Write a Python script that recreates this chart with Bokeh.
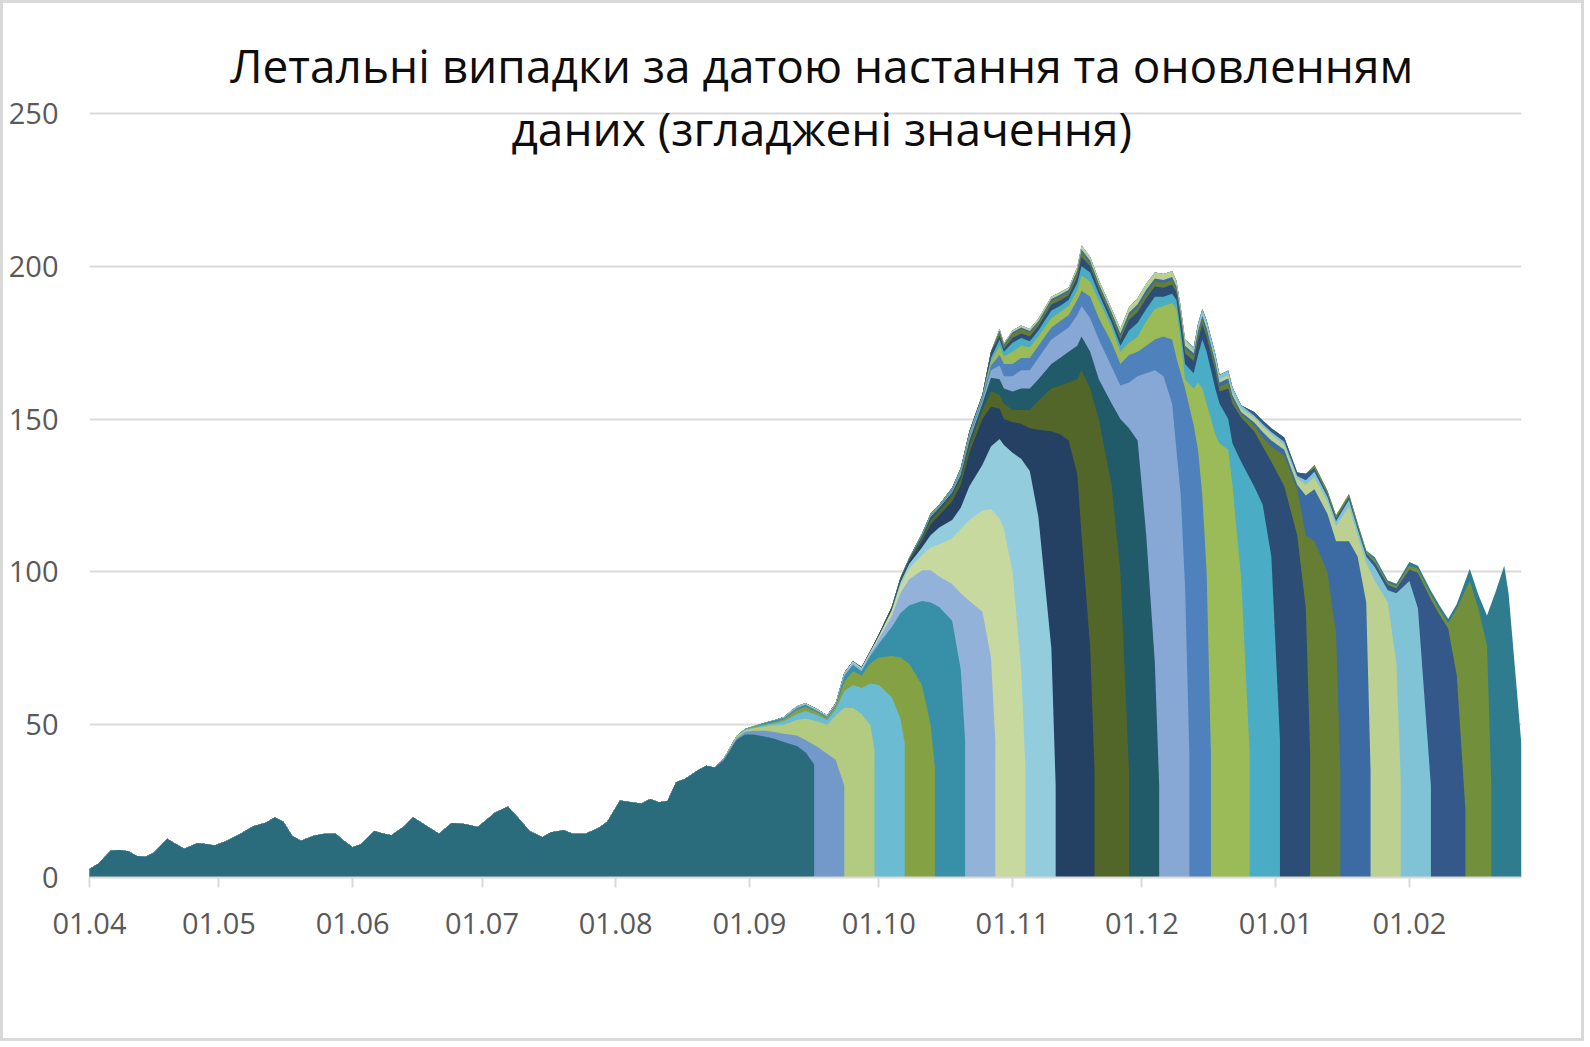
import numpy as np
import pandas as pd
from bokeh.plotting import figure
from bokeh.models import Range1d, FixedTicker, DatetimeTickFormatter, Label
from bokeh.embed import file_html
from bokeh.resources import INLINE

# ---------------- data ----------------
start = "2020-04-01"
# days since start of each reading of the final (smoothed) total
day = [0, 2, 5, 7, 9, 11, 13, 15, 18, 20,
       22, 25, 27, 29, 32, 35, 38, 41, 43, 45,
       47, 49, 52, 54, 57, 59, 61, 63, 66, 68,
       70, 73, 75, 78, 81, 84, 87, 90, 92, 94,
       97, 100, 102, 105, 107, 110, 112, 115, 118, 120,
       123, 126, 128, 130, 132, 134, 136, 138, 141, 143,
       145, 147, 150, 152, 154, 157, 159, 161, 164, 166,
       169, 171, 173, 175, 177, 179, 181, 183, 186, 188,
       190, 193, 195, 197, 200, 202, 204, 207, 209, 211,
       212, 214, 216, 218, 220, 223, 225, 227, 229, 230,
       232, 234, 237, 239, 241, 243, 245, 247, 249, 251,
       252, 253, 254, 256, 257, 258, 259, 261, 262, 264,
       265, 267, 270, 272, 274, 277, 280, 282, 284, 287,
       289, 292, 294, 296, 298, 301, 303, 306, 308, 311,
       313, 315, 317, 320, 322, 324, 326, 328, 329, 331,
       332]
total = [2.8, 4.5, 8.8, 9.0, 8.6, 7.0, 6.8, 8.2, 12.7, 11.0,
         9.4, 11.2, 11.0, 10.5, 12.1, 14.3, 16.8, 18.0, 19.7, 18.2,
         13.6, 12.0, 13.7, 14.2, 14.4, 12.0, 9.9, 11.0, 15.2, 14.4,
         13.8, 16.8, 19.7, 17.0, 14.3, 17.8, 17.5, 16.5, 18.8, 21.2,
         23.2, 18.6, 15.2, 13.2, 14.8, 15.5, 14.3, 14.3, 16.2, 18.2,
         25.2, 24.5, 24.2, 25.7, 24.6, 25.0, 31.2, 32.2, 35.0, 36.6,
         36.0, 38.8, 46.2, 48.6, 49.5, 50.8, 51.5, 52.5, 56.0, 57.0,
         54.8, 53.0, 57.0, 67.0, 70.8, 68.8, 74.0, 79.5, 88.5, 98.0,
         104.5, 112.5, 119.0, 122.0, 127.5, 134.0, 146.0, 158.0, 172.0, 179.5,
         174.8, 179.0, 180.6, 179.5, 182.8, 190.0, 191.5, 193.0, 199.7, 206.8,
         203.0, 195.5, 186.0, 179.5, 186.5, 189.5, 194.3, 198.0, 197.5, 198.4,
         195.3, 186.6, 176.0, 173.5, 181.2, 186.0, 182.3, 171.4, 164.5, 165.9,
         160.4, 154.5, 152.3, 149.5, 147.0, 144.0, 132.5, 132.1, 135.0, 126.6,
         118.5, 125.5, 116.0, 107.0, 104.8, 97.2, 96.1, 103.2, 102.0, 93.8,
         89.0, 84.6, 89.5, 101.0, 92.5, 85.7, 93.5, 102.0, 93.0, 60.0,
         43.0]

# data updates: last date of each update and its value there
layer_end = ["2020-09-16", "2020-09-23", "2020-09-30", "2020-10-07", "2020-10-14",
             "2020-10-21", "2020-10-28", "2020-11-04", "2020-11-11", "2020-11-20",
             "2020-11-28", "2020-12-05", "2020-12-12", "2020-12-17", "2020-12-26",
             "2021-01-02", "2021-01-09", "2021-01-16", "2021-01-23", "2021-01-30",
             "2021-02-06", "2021-02-14", "2021-02-20", "2021-02-27"]
layer_end_value = [37, 30, 42, 44, 36, 45, 45, 35, 30, 35,
                   35, 30, 40, 40, 40, 45, 40, 35, 35, 32,
                   30, 22, 30, 43]
# cumulative height of each update at the last readings before its end date
layer_tops = [
    [38.3, 45.0, 46.8, 46.8, 46.0, 45.3, 44.3, 43.0, 41.0],
    [45.6, 47.6, 48.0, 48.0, 47.5, 47.0, 46.5, 45.0, 42.5, 40.5, 38.5],
    [48.0, 48.8, 49.5, 49.8, 50.0, 51.5, 52.0, 51.0, 50.0, 53.0, 55.5, 55.5, 53.5, 50.0],
    [49.0, 50.0, 50.5, 51.2, 53.5, 54.5, 53.0, 51.5, 55.0, 61.0, 63.0, 62.0, 63.5, 63.0,
     59.0, 52.0],
    [50.3, 51.0, 51.8, 54.8, 55.8, 53.8, 52.2, 56.0, 64.0, 67.5, 66.0, 70.0, 72.0, 72.5,
     72.0, 70.0, 63.0, 50.0],
    [52.2, 55.5, 56.5, 54.3, 52.6, 56.5, 66.0, 69.5, 67.5, 72.5, 76.5, 82.0, 86.5, 89.0,
     90.5, 90.0, 88.5, 84.0, 68.0],
    [56.8, 54.6, 52.9, 56.8, 66.8, 70.3, 68.2, 73.3, 78.0, 85.5, 93.0, 97.5, 100.5, 100.5,
     98.5, 96.0, 93.0, 90.5, 87.0, 72.0],
    [56.9, 66.9, 70.6, 68.5, 73.7, 78.8, 87.0, 95.5, 101.0, 105.5, 108.0, 109.0, 111.0,
     114.0, 117.0, 120.0, 120.5, 117.5, 114.0, 100.0, 68.0],
    [68.6, 73.8, 79.0, 87.5, 96.5, 102.5, 108.0, 112.0, 114.5, 117.0, 121.0, 128.0, 135.0,
     141.0, 143.5, 141.5, 139.0, 137.0, 133.0, 118.0, 75.0],
    [88.0, 97.0, 103.3, 110.0, 115.5, 118.5, 123.0, 128.5, 139.0, 150.0, 154.0, 153.5,
     150.0, 149.0, 148.5, 147.0, 146.5, 146.0, 145.0, 143.0, 132.0, 112.0, 75.0],
    [97.5, 103.8, 111.0, 117.0, 120.0, 125.0, 130.5, 141.5, 153.0, 159.0, 158.0, 155.0,
     153.0, 153.0, 153.0, 156.0, 160.0, 161.0, 162.0, 163.0, 166.0, 160.0, 150.0, 128.0,
     100.0],
    [104.2, 111.7, 118.0, 121.0, 126.0, 131.8, 143.0, 155.0, 163.5, 163.0, 160.0, 159.0,
     160.0, 160.0, 163.0, 168.0, 170.0, 172.0, 174.0, 177.0, 172.0, 163.0, 155.0, 150.0,
     147.0, 143.0, 112.0, 70.0],
    [112.0, 118.4, 121.3, 126.5, 132.5, 144.0, 156.0, 166.0, 167.5, 164.0, 164.0, 166.0,
     166.0, 170.0, 176.0, 178.0, 180.0, 184.0, 187.0, 183.0, 176.0, 167.0, 161.0, 162.0,
     164.0, 165.0, 166.0, 164.0, 155.0, 140.0, 125.0, 95.0],
    [118.7, 121.6, 127.0, 133.0, 144.6, 156.8, 167.5, 171.0, 168.0, 168.0, 170.0, 170.0,
     174.0, 180.0, 182.0, 184.0, 189.0, 192.0, 190.0, 183.0, 175.0, 168.0, 171.0, 172.0,
     174.0, 176.0, 177.0, 176.0, 170.0, 165.0, 160.0, 148.0, 140.0, 125.0, 100.0],
    [127.2, 133.5, 145.2, 157.3, 169.0, 174.0, 170.5, 172.0, 174.0, 173.5, 177.0, 183.0,
     185.0, 187.0, 192.0, 197.0, 195.0, 189.0, 180.0, 172.0, 175.0, 177.0, 182.0, 186.0,
     187.0, 188.0, 186.0, 176.0, 163.0, 160.0, 162.0, 160.0, 155.0, 145.0, 142.0, 140.0,
     128.0, 98.0],
    [145.6, 157.6, 170.0, 176.0, 172.0, 175.0, 176.5, 175.5, 179.0, 185.5, 187.0, 189.0,
     194.5, 200.0, 198.0, 191.0, 181.5, 174.0, 179.0, 181.5, 186.0, 190.0, 190.0, 191.0,
     189.0, 179.0, 168.0, 165.0, 171.0, 176.0, 172.0, 160.0, 155.0, 150.0, 142.0, 136.0,
     128.0, 122.0, 105.0],
    [177.3, 173.0, 176.5, 178.0, 177.0, 180.5, 187.5, 188.8, 190.5, 196.5, 203.0, 200.0,
     192.5, 183.0, 176.0, 182.5, 185.0, 189.5, 193.5, 193.0, 194.0, 191.5, 182.0, 171.5,
     169.0, 176.0, 181.0, 177.0, 166.0, 159.0, 160.0, 155.0, 150.5, 146.0, 141.0, 136.0,
     128.0, 112.0, 88.0],
    [178.6, 174.0, 177.8, 179.5, 178.3, 181.5, 188.7, 190.0, 191.5, 197.8, 204.5, 201.0,
     193.5, 184.0, 177.0, 183.8, 186.5, 191.0, 195.0, 194.5, 195.5, 192.5, 183.5, 173.0,
     170.5, 177.5, 182.5, 178.5, 167.5, 160.5, 162.0, 156.5, 151.5, 148.0, 144.0, 141.0,
     138.0, 127.0, 112.0, 110.0, 100.0, 80.0],
    [179.0, 174.4, 178.4, 180.0, 178.8, 182.0, 189.3, 190.7, 192.2, 198.6, 205.5, 201.8,
     194.3, 184.8, 178.0, 184.8, 187.6, 192.3, 196.0, 195.5, 196.5, 193.4, 184.6, 174.0,
     171.5, 178.8, 183.8, 179.8, 168.8, 162.0, 163.3, 157.7, 152.3, 149.0, 145.8, 143.0,
     140.0, 128.5, 125.0, 127.0, 119.0, 110.0, 110.0, 105.0, 90.0],
    [172.2, 179.6, 184.6, 180.7, 169.8, 163.0, 164.4, 158.8, 153.3, 150.5, 147.5, 145.0,
     141.5, 130.5, 128.5, 131.0, 123.0, 115.0, 121.5, 112.0, 103.0, 97.0, 90.0, 70.0],
    [151.2, 148.4, 145.8, 142.6, 131.4, 130.0, 132.8, 124.6, 116.6, 123.5, 114.0, 105.0,
     101.5, 94.0, 93.0, 97.0, 88.0],
    [134.0, 125.6, 117.6, 124.5, 115.0, 106.0, 103.0, 95.8, 94.6, 100.8, 99.6, 91.0, 86.0,
     81.5, 66.0],
    [104.0, 96.5, 95.4, 102.0, 101.0, 92.5, 87.6, 83.2, 88.0, 97.0, 88.0, 76.0],
    [],
]
layer_colors = ["#2A6B7C", "#7399CB", "#B3CB80", "#6BBCD3", "#84A243", "#3790A8",
                "#93B2D9", "#C8D9A0", "#93CDDD", "#244062", "#536629", "#215A68",
                "#87A8D5", "#4F81BD", "#9BBB59", "#4BACC6", "#2C4D75", "#657E34",
                "#3C6AA3", "#BCD092", "#80C3D7", "#335889", "#72903B", "#2F7C8F"]

y_ticks = [0, 50, 100, 150, 200, 250]
month_ticks = ["2020-04-01", "2020-05-01", "2020-06-01", "2020-07-01", "2020-08-01",
               "2020-09-01", "2020-10-01", "2020-11-01", "2020-12-01", "2021-01-01",
               "2021-02-01"]
title_lines = ["Летальні випадки за датою настання та оновленням",
               "даних (згладжені значення)"]

# ---------------- build ----------------
def ms(ts):
    return (pd.Timestamp(ts) - pd.Timestamp("1970-01-01")) / pd.Timedelta(milliseconds=1)

t0 = pd.Timestamp(start)
dates = np.array([ms(t0 + pd.Timedelta(days=d)) for d in day])
tot = np.array(total, dtype=float)
n_layers = len(layer_end)

# heights of every update on the common reading dates (NaN after its end)
ends = [ms(e) for e in layer_end]
S = np.full((n_layers, len(dates)), np.nan)
for k in range(n_layers):
    mask = dates < ends[k]
    vals = tot[mask].copy()
    tops = layer_tops[k]
    n = min(len(tops), len(vals))
    if n:
        vals[-n:] = tops[-n:]
    S[k, :mask.sum()] = vals
# safeguard: an earlier update never exceeds a later one
for k in range(n_layers - 2, -1, -1):
    both = ~np.isnan(S[k]) & ~np.isnan(S[k + 1])
    S[k, both] = np.minimum(S[k, both], S[k + 1, both])

W, H = 1584, 1041
p = figure(width=W, height=H,
           x_range=Range1d(ms(start), ends[-1]), y_range=Range1d(0, 285),
           output_backend="svg", toolbar_location=None,
           min_border_left=86, min_border_right=66, min_border_top=3, min_border_bottom=167)
p.background_fill_color = "white"
p.border_fill_color = "white"
p.outline_line_color = None
p.styles = {"border": "3px solid #d9d9d9"}

# draw latest update first, earlier updates on top of it
for k in range(n_layers - 1, -1, -1):
    m = ~np.isnan(S[k])
    x = np.concatenate([dates[m], [ends[k], ends[k]]])
    y = np.concatenate([S[k, m], [layer_end_value[k], 0.0]])
    p.varea(x=x, y1=np.zeros_like(y), y2=y, fill_color=layer_colors[k], fill_alpha=1.0)

# axes
tick_font = "Open Sans"
p.xaxis.ticker = FixedTicker(ticks=[ms(t) for t in month_ticks])
p.xaxis.formatter = DatetimeTickFormatter(days="%d.%m", months="%d.%m", years="%d.%m",
                                          hours="%d.%m", minutes="%d.%m")
p.xaxis.axis_line_color = "#d9d9d9"
p.xaxis.axis_line_width = 2
p.xaxis.major_tick_line_color = "#d9d9d9"
p.xaxis.major_tick_line_width = 2
p.xaxis.major_tick_in = 0
p.xaxis.major_tick_out = 10
p.xaxis.minor_tick_line_color = None
p.xaxis.major_label_standoff = 25
p.xaxis.major_label_text_font = tick_font
p.xaxis.major_label_text_font_size = "29px"
p.xaxis.major_label_text_color = "#595959"

p.yaxis.ticker = FixedTicker(ticks=y_ticks)
p.yaxis.axis_line_color = None
p.yaxis.major_tick_line_color = None
p.yaxis.minor_tick_line_color = None
p.yaxis.major_tick_out = 0
p.yaxis.major_tick_in = 0
p.yaxis.major_label_standoff = 31
p.yaxis.major_label_text_font = tick_font
p.yaxis.major_label_text_font_size = "29px"
p.yaxis.major_label_text_color = "#595959"

p.xgrid.grid_line_color = None
p.ygrid.ticker = FixedTicker(ticks=y_ticks)
p.ygrid.grid_line_color = "#d9d9d9"
p.ygrid.grid_line_width = 2

# title (two centred lines, in the empty space above the 250 line)
title_x = ms("2020-09-17 18:00")
for txt, yv in zip(title_lines, [265.8, 245.1]):
    p.add_layout(Label(x=title_x, y=yv, text=txt, text_align="center",
                       text_baseline="alphabetic", text_font="Open Sans",
                       text_font_size="46px", text_color="#0d0d0d"))

open("out.html", "w").write(file_html(p, INLINE))
